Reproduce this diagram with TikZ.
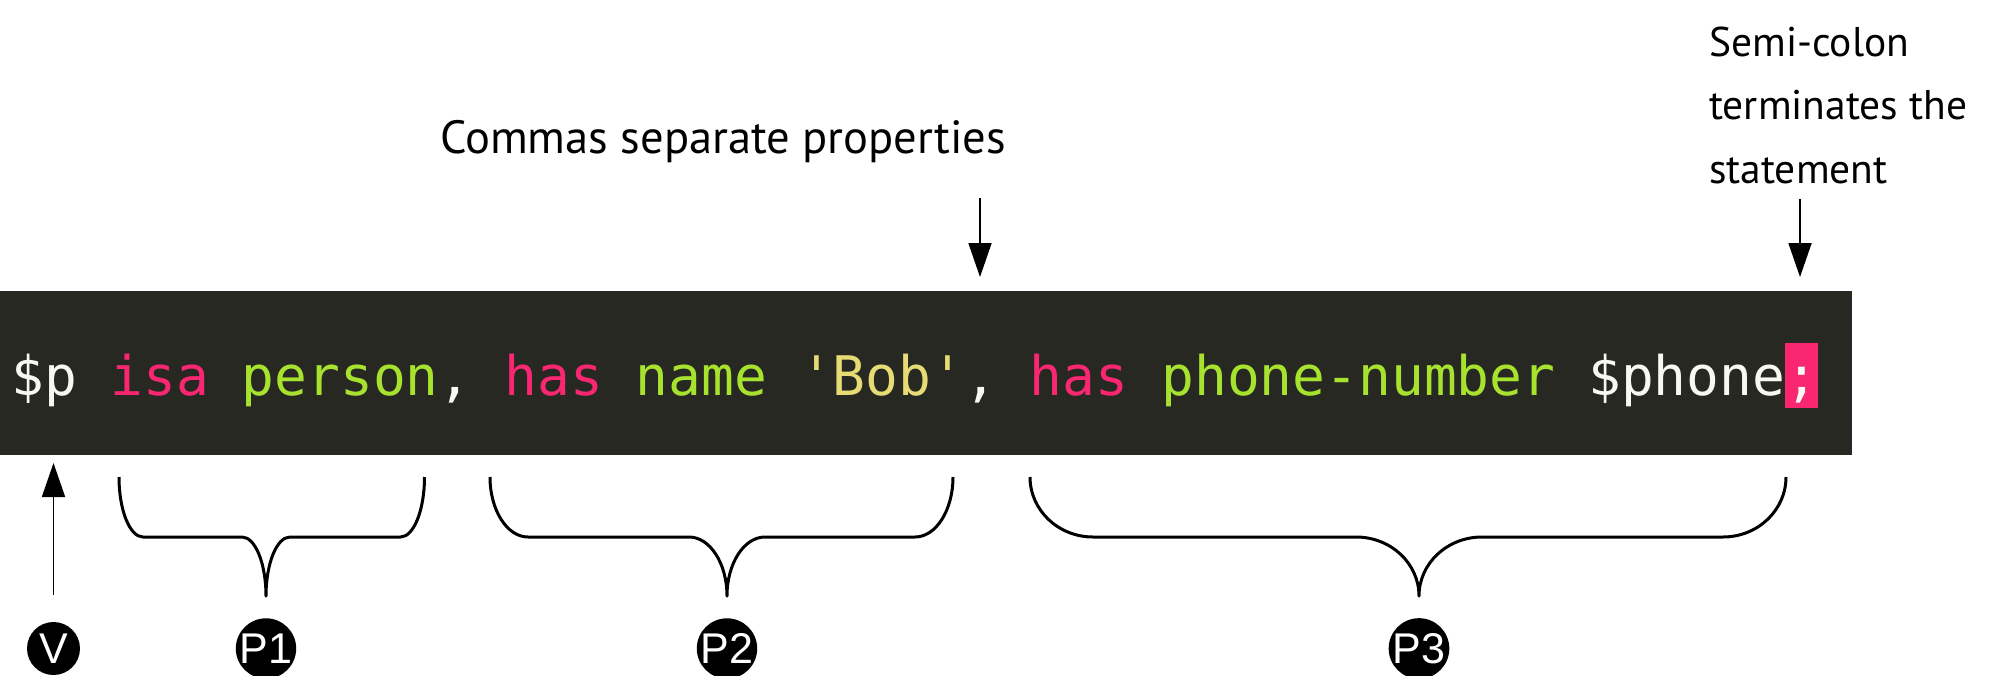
\documentclass[tikz,border=0pt]{standalone}
\usepackage{fontspec}
\setmainfont{PT Sans}
\setmonofont{DejaVu Sans Mono}
\newfontfamily\labfont{Liberation Sans}
\usetikzlibrary{arrows.meta}
\definecolor{mbg}{HTML}{272822}
\definecolor{mpink}{HTML}{F92672}
\definecolor{mgreen}{HTML}{A6E22E}
\definecolor{myellow}{HTML}{E6DB74}
\definecolor{mwhite}{HTML}{F8F8F2}
\newlength\annw
\settowidth\annw{\fontsize{45}{45}\selectfont Commas separate properties}
\pgfmathsetmacro\annsize{45/\annw*566}
\newlength\semw
\settowidth\semw{\fontsize{45}{45}\selectfont terminates the}
\pgfmathsetmacro\semsize{45/\semw*258}
\tikzset{
  anntext/.style={inner sep=0pt, font=\fontsize{\annsize}{64}\selectfont},
  semitext/.style={inner sep=0pt, font=\fontsize{\semsize}{63.5}\selectfont},
  codetext/.style={inner sep=0pt, font=\ttfamily\fontsize{54.55}{60}\selectfont},
  pointer/.style={line width=1.8pt, -{Triangle[width=23pt,length=34pt]}},
  bracepath/.style={line width=3pt, line join=round},
  badge/.style={circle, fill=black, minimum size=53pt, inner sep=0pt, text=white,
    font=\labfont\fontsize{43}{43}\selectfont},
}
\begin{document}
\begin{tikzpicture}[x=1pt,y=-1pt]
\useasboundingbox (0,0) rectangle (1998,675);
% code bar
\fill[mbg] (0,291) rectangle (1852,455);
\fill[mpink] (1785,343) rectangle (1818,408);
\node[codetext, anchor=base west] (code) at (11.7,395)
  {\color{mwhite}\$p \color{mpink}isa \color{mgreen}person\color{mwhite}, \color{mpink}has \color{mgreen}name \color{myellow}'Bob'\color{mwhite}, \color{mpink}has \color{mgreen}phone-number \color{mwhite}\$phone;};
% annotations
\node[anntext, anchor=base west] (commas) at (440,153) {Commas separate properties};
\node[semitext, anchor=base west] (semi) at (1709,56)
  {\begin{tabular}[t]{@{}l@{}}Semi-colon\\terminates the\\statement\end{tabular}};
\coordinate (ca) at (980,198);
\coordinate (cb) at (980,277);
\coordinate (sa) at (1800,199);
\coordinate (sb) at (1800,277);
\coordinate (va) at (53.5,595);
\coordinate (vb) at (53.5,463);
\draw[pointer] (ca) -- (cb);
\draw[pointer] (sa) -- (sb);
\draw[pointer] (va) -- (vb);
% braces
\draw[bracepath] (119,477) .. controls (119,510.1) and (129.75,537) .. (143,537)
  -- (242,537) .. controls (255.25,537) and (266,563.4) .. (266,596)
  .. controls (266,563.4) and (276.75,537) .. (290,537)
  -- (400.5,537) .. controls (413.75,537) and (424.5,510.1) .. (424.5,477);
\draw[bracepath] (490,477) .. controls (490,510.1) and (507,537) .. (528,537)
  -- (689,537) .. controls (710,537) and (727,563.4) .. (727,596)
  .. controls (727,563.4) and (744,537) .. (765,537)
  -- (915,537) .. controls (936,537) and (953,510.1) .. (953,477);
\draw[bracepath] (1030,477) .. controls (1030,510.1) and (1058.2,537) .. (1093,537)
  -- (1356,537) .. controls (1390.8,537) and (1419,563.4) .. (1419,596)
  .. controls (1419,563.4) and (1447.2,537) .. (1482,537)
  -- (1723,537) .. controls (1757.8,537) and (1786,510.1) .. (1786,477);
% badges
\node[badge] (V) at (53.5,648.5) {V};
\node[badge] (P1) at (266,648.5) {P1};
\node[badge] (P2) at (727,648.5) {P2};
\node[badge] (P3) at (1419,648.5) {P3};
\end{tikzpicture}
\end{document}
